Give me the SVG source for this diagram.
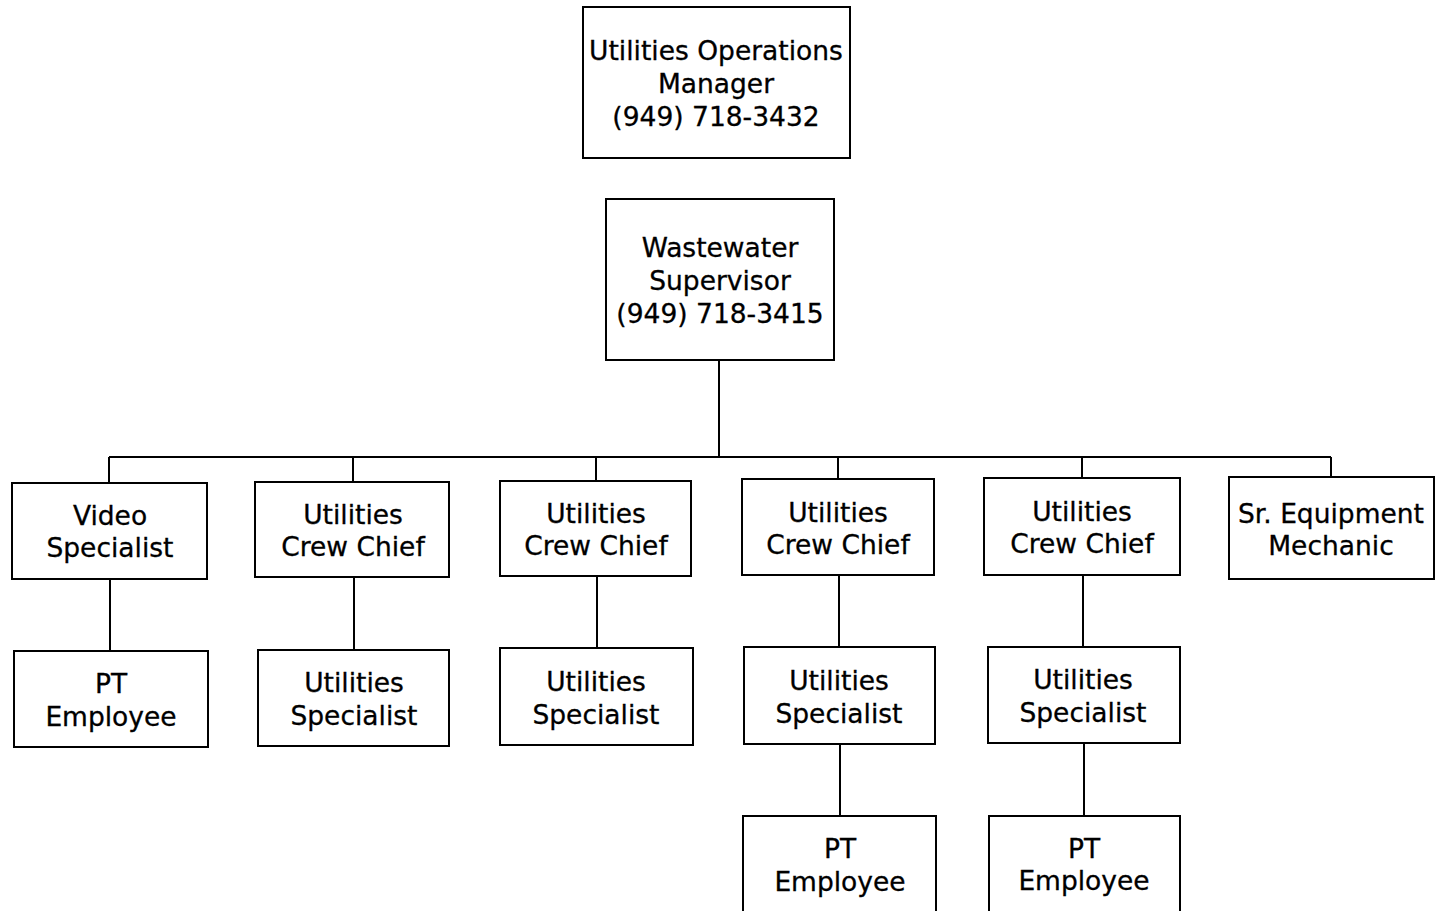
<svg xmlns="http://www.w3.org/2000/svg" width="1439" height="911" viewBox="0 0 1439 911">
<style>
.box{fill:#fff;stroke:#000;stroke-width:2}
.t{font-family:"DejaVu Sans",Verdana,sans-serif;font-size:26.5px;fill:#000;text-anchor:middle;stroke:#000;stroke-width:0.3}
.c{fill:none;stroke:#000;stroke-width:2}
</style>
<rect width="1439" height="911" fill="#fff"/>
<g id="connectors">
<path class="c" d="M719 360V457M109 457H1331M109 457V483M353 457V482M596 457V481M838 457V479M1082 457V478M1331 457V477"/>
<path class="c" d="M110 579V651M354 577V650M597 576V648M839 575V647M1083 575V647M840 744V816M1084 743V816"/>
</g>
<g id="manager"><rect class="box" x="583" y="7" width="267" height="151"/><text class="t" x="716" y="60">Utilities Operations</text><text class="t" x="716" y="93">Manager</text><text class="t" x="716" y="126">(949) 718-3432</text></g>
<g id="supervisor"><rect class="box" x="606" y="199" width="228" height="161"/><text class="t" x="720" y="257">Wastewater</text><text class="t" x="720" y="290">Supervisor</text><text class="t" x="720" y="323">(949) 718-3415</text></g>
<g id="video"><rect class="box" x="12" y="483" width="195" height="96"/><text class="t" x="110" y="525">Video</text><text class="t" x="110" y="557">Specialist</text></g>
<g id="chief1"><rect class="box" x="255" y="482" width="194" height="95"/><text class="t" x="353" y="524">Utilities</text><text class="t" x="353" y="556">Crew Chief</text></g>
<g id="chief2"><rect class="box" x="500" y="481" width="191" height="95"/><text class="t" x="596" y="523">Utilities</text><text class="t" x="596" y="555">Crew Chief</text></g>
<g id="chief3"><rect class="box" x="742" y="479" width="192" height="96"/><text class="t" x="838" y="522">Utilities</text><text class="t" x="838" y="554">Crew Chief</text></g>
<g id="chief4"><rect class="box" x="984" y="478" width="196" height="97"/><text class="t" x="1082" y="521">Utilities</text><text class="t" x="1082" y="553">Crew Chief</text></g>
<g id="mechanic"><rect class="box" x="1229" y="477" width="205" height="102"/><text class="t" x="1331" y="523">Sr. Equipment</text><text class="t" x="1331" y="555">Mechanic</text></g>
<g id="pt1"><rect class="box" x="14" y="651" width="194" height="96"/><text class="t" x="111" y="693">PT</text><text class="t" x="111" y="726">Employee</text></g>
<g id="spec1"><rect class="box" x="258" y="650" width="191" height="96"/><text class="t" x="354" y="692">Utilities</text><text class="t" x="354" y="725">Specialist</text></g>
<g id="spec2"><rect class="box" x="500" y="648" width="193" height="97"/><text class="t" x="596" y="691">Utilities</text><text class="t" x="596" y="724">Specialist</text></g>
<g id="spec3"><rect class="box" x="744" y="647" width="191" height="97"/><text class="t" x="839" y="690">Utilities</text><text class="t" x="839" y="723">Specialist</text></g>
<g id="spec4"><rect class="box" x="988" y="647" width="192" height="96"/><text class="t" x="1083" y="689">Utilities</text><text class="t" x="1083" y="722">Specialist</text></g>
<g id="pt2"><rect class="box" x="743" y="816" width="193" height="100"/><text class="t" x="840" y="858">PT</text><text class="t" x="840" y="891">Employee</text></g>
<g id="pt3"><rect class="box" x="989" y="816" width="191" height="100"/><text class="t" x="1084" y="858">PT</text><text class="t" x="1084" y="890">Employee</text></g>
</svg>
